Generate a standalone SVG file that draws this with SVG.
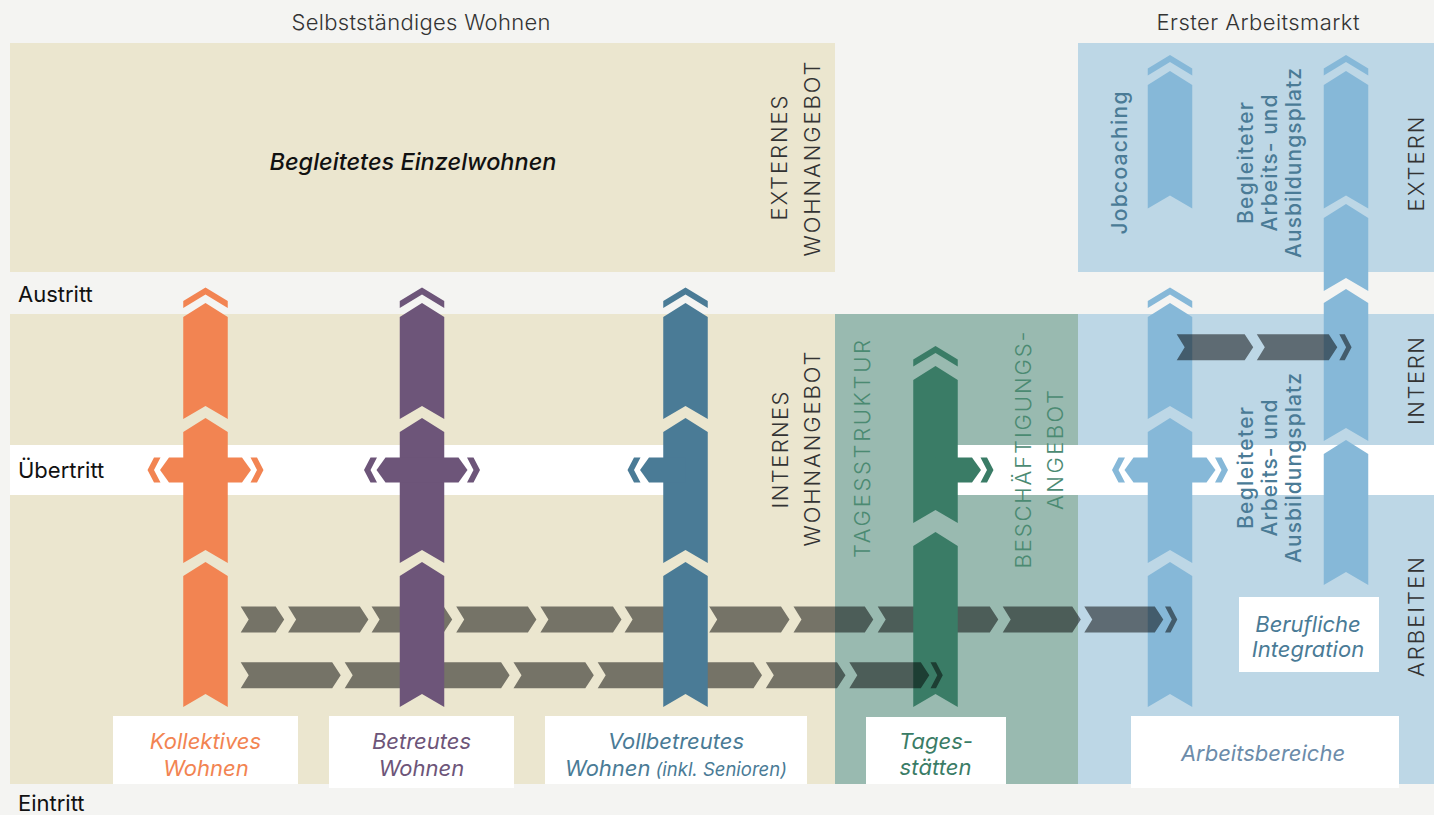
<svg xmlns="http://www.w3.org/2000/svg" width="1434" height="815" viewBox="0 0 1434 815">
<style>
text{font-family:Inter,'Liberation Sans',sans-serif}
.hd{font-size:22px;font-weight:300;fill:#333}
.cap{font-size:22px;font-weight:300;fill:#333}
.capg{font-size:22px;font-weight:300;fill:#4b8a72}
.side{font-size:22px;font-weight:400;fill:#111}
.it{font-style:italic;font-size:22px;font-weight:400}
.big{font-size:23.5px;font-weight:500}
.vb{font-size:21px;font-weight:500;fill:#4a7b96}
.band{fill:#000;fill-opacity:.5}
.box{fill:#fff}
.mid{text-anchor:middle}
</style>
<defs>
<path id="capA" d="M0,287.5L22.25,301L22.25,308L0,294.5L-22.25,308L-22.25,301Z"/>
<path id="arrW" d="M0,303L22.25,317L22.25,419L0,406L-22.25,419L-22.25,317Z M0,418L22.25,432L22.25,563L0,550L-22.25,563L-22.25,432Z M0,562L22.25,576L22.25,707L0,694L-22.25,707L-22.25,576Z"/>
<path id="armsBoth" d="M-36.5,457.5H36.5L45.5,470L36.5,482.5H-36.5L-45.5,470Z"/>
<path id="chevL" d="M-51.5,457.5H-45L-51.5,470L-45,482.5H-51.5L-58,470Z"/>
<path id="chevR" d="M51.5,457.5H45L51.5,470L45,482.5H51.5L58,470Z"/>
<path id="capTop" d="M0,55L22.25,68.5L22.25,75.5L0,62L-22.25,75.5L-22.25,68.5Z"/>
</defs>

<rect width="1434" height="815" fill="#f4f4f2"/>

<g id="regions">
<rect x="10" y="43" width="825" height="229" fill="#ebe6cf"/>
<rect x="1078" y="43" width="356" height="229" fill="#bdd7e6"/>
<rect x="10" y="314" width="825" height="470" fill="#ebe6cf"/>
<rect x="835" y="314" width="243" height="470" fill="#99bab0"/>
<rect x="1078" y="314" width="356" height="470" fill="#bdd7e6"/>
<rect x="10" y="445" width="676" height="50" fill="#fff"/>
<rect x="936" y="445" width="498" height="50" fill="#fff"/>
</g>

<g id="headings">
<text class="hd mid" x="421" y="30" textLength="259">Selbstständiges Wohnen</text>
<text class="hd mid" x="1258" y="30" textLength="203">Erster Arbeitsmarkt</text>
<text class="side" x="18" y="302">Austritt</text>
<text class="side" x="18" y="478">Übertritt</text>
<text class="side" x="18" y="811">Eintritt</text>
</g>

<g id="region-labels">
<text class="it big mid" x="413" y="170" fill="#111">Begleitetes Einzelwohnen</text>
<text class="cap mid" transform="translate(787,158) rotate(-90)" textLength="125">EXTERNES</text>
<text class="cap mid" transform="translate(820,159) rotate(-90)" textLength="195">WOHNANGEBOT</text>
<text class="cap mid" transform="translate(788,450) rotate(-90)" textLength="117">INTERNES</text>
<text class="cap mid" transform="translate(820,449) rotate(-90)" textLength="195">WOHNANGEBOT</text>
<text class="capg mid" transform="translate(870,449) rotate(-90)" textLength="218">TAGESSTRUKTUR</text>
<text class="capg mid" transform="translate(1031,450) rotate(-90)" textLength="237">BESCHÄFTIGUNGS-</text>
<text class="capg mid" transform="translate(1063,450) rotate(-90)" textLength="120">ANGEBOT</text>
<text class="cap mid" transform="translate(1424,164) rotate(-90)" textLength="95">EXTERN</text>
<text class="cap mid" transform="translate(1424,381) rotate(-90)" textLength="88">INTERN</text>
<text class="cap mid" transform="translate(1424,617) rotate(-90)" textLength="120">ARBEITEN</text>
<text class="vb mid" transform="translate(1127,163) rotate(-90)" textLength="143">Jobcoaching</text>
<text class="vb mid" transform="translate(1253,163) rotate(-90)" textLength="122">Begleiteter</text>
<text class="vb mid" transform="translate(1277,163) rotate(-90)" textLength="137">Arbeits- und</text>
<text class="vb mid" transform="translate(1301,163) rotate(-90)" textLength="190">Ausbildungsplatz</text>
<text class="vb mid" transform="translate(1253,468) rotate(-90)" textLength="122">Begleiteter</text>
<text class="vb mid" transform="translate(1277,468) rotate(-90)" textLength="137">Arbeits- und</text>
<text class="vb mid" transform="translate(1301,468) rotate(-90)" textLength="190">Ausbildungsplatz</text>
</g>

<g id="connectors-back" class="band">
<polygon points="240.7,606.5 275.7,606.5 284.2,619.5 275.7,632.5 240.7,632.5 248.7,619.5"/>
<polygon points="288.1,606.5 359.9,606.5 368.4,619.5 359.9,632.5 288.1,632.5 296.1,619.5"/>
<polygon points="371.6,606.5 443.7,606.5 452.2,619.5 443.7,632.5 371.6,632.5 379.6,619.5"/>
<polygon points="456.2,606.5 527.9,606.5 536.4,619.5 527.9,632.5 456.2,632.5 464.2,619.5"/>
<polygon points="540.4,606.5 613,606.5 621.5,619.5 613,632.5 540.4,632.5 548.4,619.5"/>
<polygon points="624.6,606.5 696.6,606.5 705.1,619.5 696.6,632.5 624.6,632.5 632.6,619.5"/>
<polygon points="709.2,606.5 781,606.5 789.5,619.5 781,632.5 709.2,632.5 717.2,619.5"/>
<polygon points="793.5,606.5 864.8,606.5 873.3,619.5 864.8,632.5 793.5,632.5 801.5,619.5"/>
<polygon points="877.7,606.5 989.8,606.5 998.3,619.5 989.8,632.5 877.7,632.5 885.7,619.5"/>
<polygon points="1002.7,606.5 1072.3,606.5 1080.8,619.5 1072.3,632.5 1002.7,632.5 1010.7,619.5"/>
<polygon points="240.7,662.3 332.2,662.3 340.7,675.3 332.2,688.3 240.7,688.3 248.7,675.3"/>
<polygon points="344.7,662.3 416.7,662.3 425.2,675.3 416.7,688.3 344.7,688.3 352.7,675.3"/>
<polygon points="428.9,662.3 501.1,662.3 509.6,675.3 501.1,688.3 428.9,688.3 436.9,675.3"/>
<polygon points="513.5,662.3 585.3,662.3 593.8,675.3 585.3,688.3 513.5,688.3 521.5,675.3"/>
<polygon points="597.7,662.3 669.7,662.3 678.2,675.3 669.7,688.3 597.7,688.3 605.7,675.3"/>
<polygon points="681.9,662.3 753.5,662.3 762,675.3 753.5,688.3 681.9,688.3 689.9,675.3"/>
<polygon points="765.8,662.3 837,662.3 845.5,675.3 837,688.3 765.8,688.3 773.8,675.3"/>
</g>

<g id="kollektives-wohnen" fill="#f28452" transform="translate(205.5,0)">
<use href="#capA"/><use href="#arrW"/><use href="#armsBoth"/><use href="#chevL"/><use href="#chevR"/>
</g>
<g id="betreutes-wohnen" fill="#6d5579" transform="translate(422,0)">
<use href="#capA"/><use href="#arrW"/><use href="#armsBoth"/><use href="#chevL"/><use href="#chevR"/>
</g>
<g id="vollbetreutes-wohnen" fill="#4a7b96" transform="translate(685.5,0)">
<use href="#capA"/><use href="#arrW"/>
<path d="M0,457.5H-36.5L-45.5,470L-36.5,482.5H0Z"/><use href="#chevL"/>
</g>
<g id="tagesstaetten" fill="#3a7c66" transform="translate(935.5,0)">
<path d="M0,346L22.25,359.5L22.25,366.5L0,353L-22.25,366.5L-22.25,359.5Z"/>
<path d="M0,366L22.25,380L22.25,523L0,510L-22.25,523L-22.25,380Z M0,532L22.25,546L22.25,707L0,694L-22.25,707L-22.25,546Z"/>
<path d="M0,457.5H36.5L45.5,470L36.5,482.5H0Z"/><use href="#chevR"/>
</g>

<g id="connectors-mid" class="band">
<polygon points="849.3,662.3 920.8,662.3 929.3,675.3 920.8,688.3 849.3,688.3 857.3,675.3"/>
<polygon points="930.5,662.3 936,662.3 942.8,675.3 936,688.3 930.5,688.3 937.3,675.3"/>
</g>

<g id="jobcoaching" fill="#86b8d8" transform="translate(1170,0)">
<use href="#capTop"/>
<path d="M0,71L22.25,85L22.25,208.5L0,195.5L-22.25,208.5L-22.25,85Z"/>
</g>
<g id="arbeitsplatz" fill="#86b8d8" transform="translate(1346,0)">
<use href="#capTop"/>
<path d="M0,71L22.25,85L22.25,208.5L0,195.5L-22.25,208.5L-22.25,85Z M0,204L22.25,218L22.25,291L0,278L-22.25,291L-22.25,218Z M0,289L22.25,303L22.25,441L0,428L-22.25,441L-22.25,303Z M0,440L22.25,454L22.25,585L0,572L-22.25,585L-22.25,454Z"/>
</g>
<g id="arbeitsbereiche" fill="#86b8d8" transform="translate(1170,0)">
<use href="#capA"/><use href="#arrW"/><use href="#armsBoth"/><use href="#chevL"/><use href="#chevR"/>
</g>

<g id="connectors-front" class="band">
<polygon points="1084.3,606.5 1154.8,606.5 1163.3,619.5 1154.8,632.5 1084.3,632.5 1092.3,619.5"/>
<polygon points="1165,606.5 1170.5,606.5 1177.3,619.5 1170.5,632.5 1165,632.5 1171.8,619.5"/>
<polygon points="1176.7,334.2 1244.7,334.2 1253.2,347.2 1244.7,360.2 1176.7,360.2 1184.7,347.2"/>
<polygon points="1256.8,334.2 1328.8,334.2 1337.3,347.2 1328.8,360.2 1256.8,360.2 1264.8,347.2"/>
<polygon points="1339.3,334.2 1344.8,334.2 1351.6,347.2 1344.8,360.2 1339.3,360.2 1346.1,347.2"/>
</g>

<g id="label-kollektives">
<rect class="box" x="113" y="716" width="185" height="68"/>
<text class="it mid" x="205.5" y="749" fill="#f28452">Kollektives</text>
<text class="it mid" x="206" y="776" fill="#f28452">Wohnen</text>
</g>
<g id="label-betreutes">
<rect class="box" x="329" y="716" width="185" height="72"/>
<text class="it mid" x="421.5" y="749" fill="#6d5579">Betreutes</text>
<text class="it mid" x="421.5" y="776" fill="#6d5579">Wohnen</text>
</g>
<g id="label-vollbetreutes">
<rect class="box" x="545" y="716" width="262" height="68"/>
<text class="it mid" x="676" y="749" fill="#4a7b96">Vollbetreutes</text>
<text class="it mid" x="676" y="776" fill="#4a7b96">Wohnen<tspan style="font-size:18.5px" dx="5">(inkl. Senioren)</tspan></text>
</g>
<g id="label-tages">
<rect class="box" x="866" y="717" width="140" height="67"/>
<text class="it mid" x="936" y="749" fill="#3a7c66">Tages-</text>
<text class="it mid" x="935.5" y="775" fill="#3a7c66">stätten</text>
</g>
<g id="label-arbeitsbereiche">
<rect class="box" x="1131" y="716" width="268" height="72"/>
<text class="it mid" x="1263" y="761" fill="#6c8caa">Arbeitsbereiche</text>
</g>
<g id="label-berufliche">
<rect class="box" x="1239" y="597" width="140" height="75"/>
<text class="it mid" x="1308" y="632" fill="#4a7b96">Berufliche</text>
<text class="it mid" x="1308" y="657" fill="#4a7b96">Integration</text>
</g>
</svg>
